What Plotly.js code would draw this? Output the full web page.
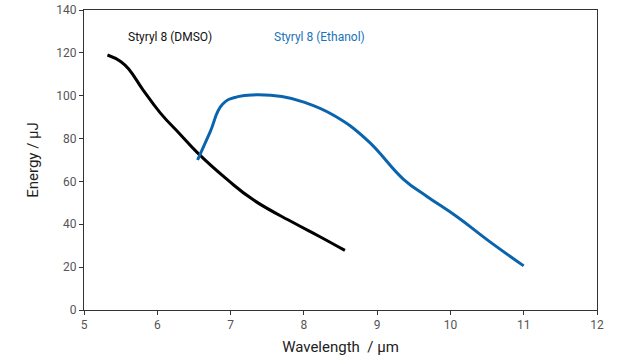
<!DOCTYPE html>
<html>
<head>
<meta charset="utf-8">
<script src="https://cdn.plot.ly/plotly-3.0.1.min.js"></script>
<style>html,body{margin:0;padding:0;background:#fff;}#chart{width:630px;height:359px;}</style>
</head>
<body>
<div id="chart"></div>
<script>
const dmsoX = [5.32, 5.50, 5.62, 5.80, 6.04, 6.32, 6.55, 6.96, 7.31, 7.86, 8.22, 8.56];
const dmsoY = [119.0, 116.0, 112.0, 103.0, 92.0, 81.7, 73.3, 60.7, 51.4, 40.7, 34.2, 27.8];
const ethX = [6.55, 6.72, 6.89, 7.10, 7.35, 7.70, 8.00, 8.40, 8.86, 9.36, 9.68, 10.09, 10.54, 11.0];
const ethY = [70.0, 83.0, 96.0, 99.6, 100.4, 99.6, 97.0, 91.0, 79.4, 61.0, 53.0, 43.5, 31.8, 20.6];
const labels = ["Styryl 8 (DMSO)", "Styryl 8 (Ethanol)"];
const labelX = [6.17, 8.22];
const labelY = [127.4, 127.4];
const xTicks = [5, 6, 7, 8, 9, 10, 11, 12];
const yTicks = [0, 20, 40, 60, 80, 100, 120, 140];

const font = "Roboto, Arial, sans-serif";
const traces = [
  {x: dmsoX, y: dmsoY, mode: 'lines', line: {color: '#000000', width: 3, shape: 'spline', smoothing: 1.3}, hoverinfo: 'skip'},
  {x: ethX, y: ethY, mode: 'lines', line: {color: '#0a64ad', width: 3, shape: 'spline', smoothing: 1.3}, hoverinfo: 'skip'}
];
const layout = {
  width: 630, height: 359,
  margin: {l: 84, r: 33, t: 10, b: 49},
  paper_bgcolor: '#fff', plot_bgcolor: '#fff',
  showlegend: false,
  font: {family: font, color: '#444'},
  xaxis: {
    range: [5, 12], tickvals: xTicks, ticktext: xTicks.map(String),
    showgrid: false, zeroline: false,
    showline: true, linecolor: '#333', linewidth: 1, mirror: true,
    ticks: 'outside', ticklen: 4, tickcolor: '#333',
    tickfont: {size: 12, color: '#555', family: font},
    title: {text: 'Wavelength  / µm', font: {size: 15, color: '#222', family: font}, standoff: 10}
  },
  yaxis: {
    range: [0, 140], tickvals: yTicks, ticktext: yTicks.map(String),
    showgrid: false, zeroline: false,
    showline: true, linecolor: '#333', linewidth: 1, mirror: true,
    ticks: 'outside', ticklen: 4, tickcolor: '#333',
    tickfont: {size: 12, color: '#555', family: font},
    title: {text: 'Energy / µJ', font: {size: 15, color: '#222', family: font}, standoff: 14}
  },
  annotations: labels.map((t, i) => ({
    x: labelX[i], y: labelY[i], xref: 'x', yref: 'y', text: t, showarrow: false,
    font: {size: 12, family: font, color: i === 0 ? '#111' : '#1a72ba'}
  }))
};
Plotly.newPlot('chart', traces, layout, {staticPlot: true});
</script>
</body>
</html>
